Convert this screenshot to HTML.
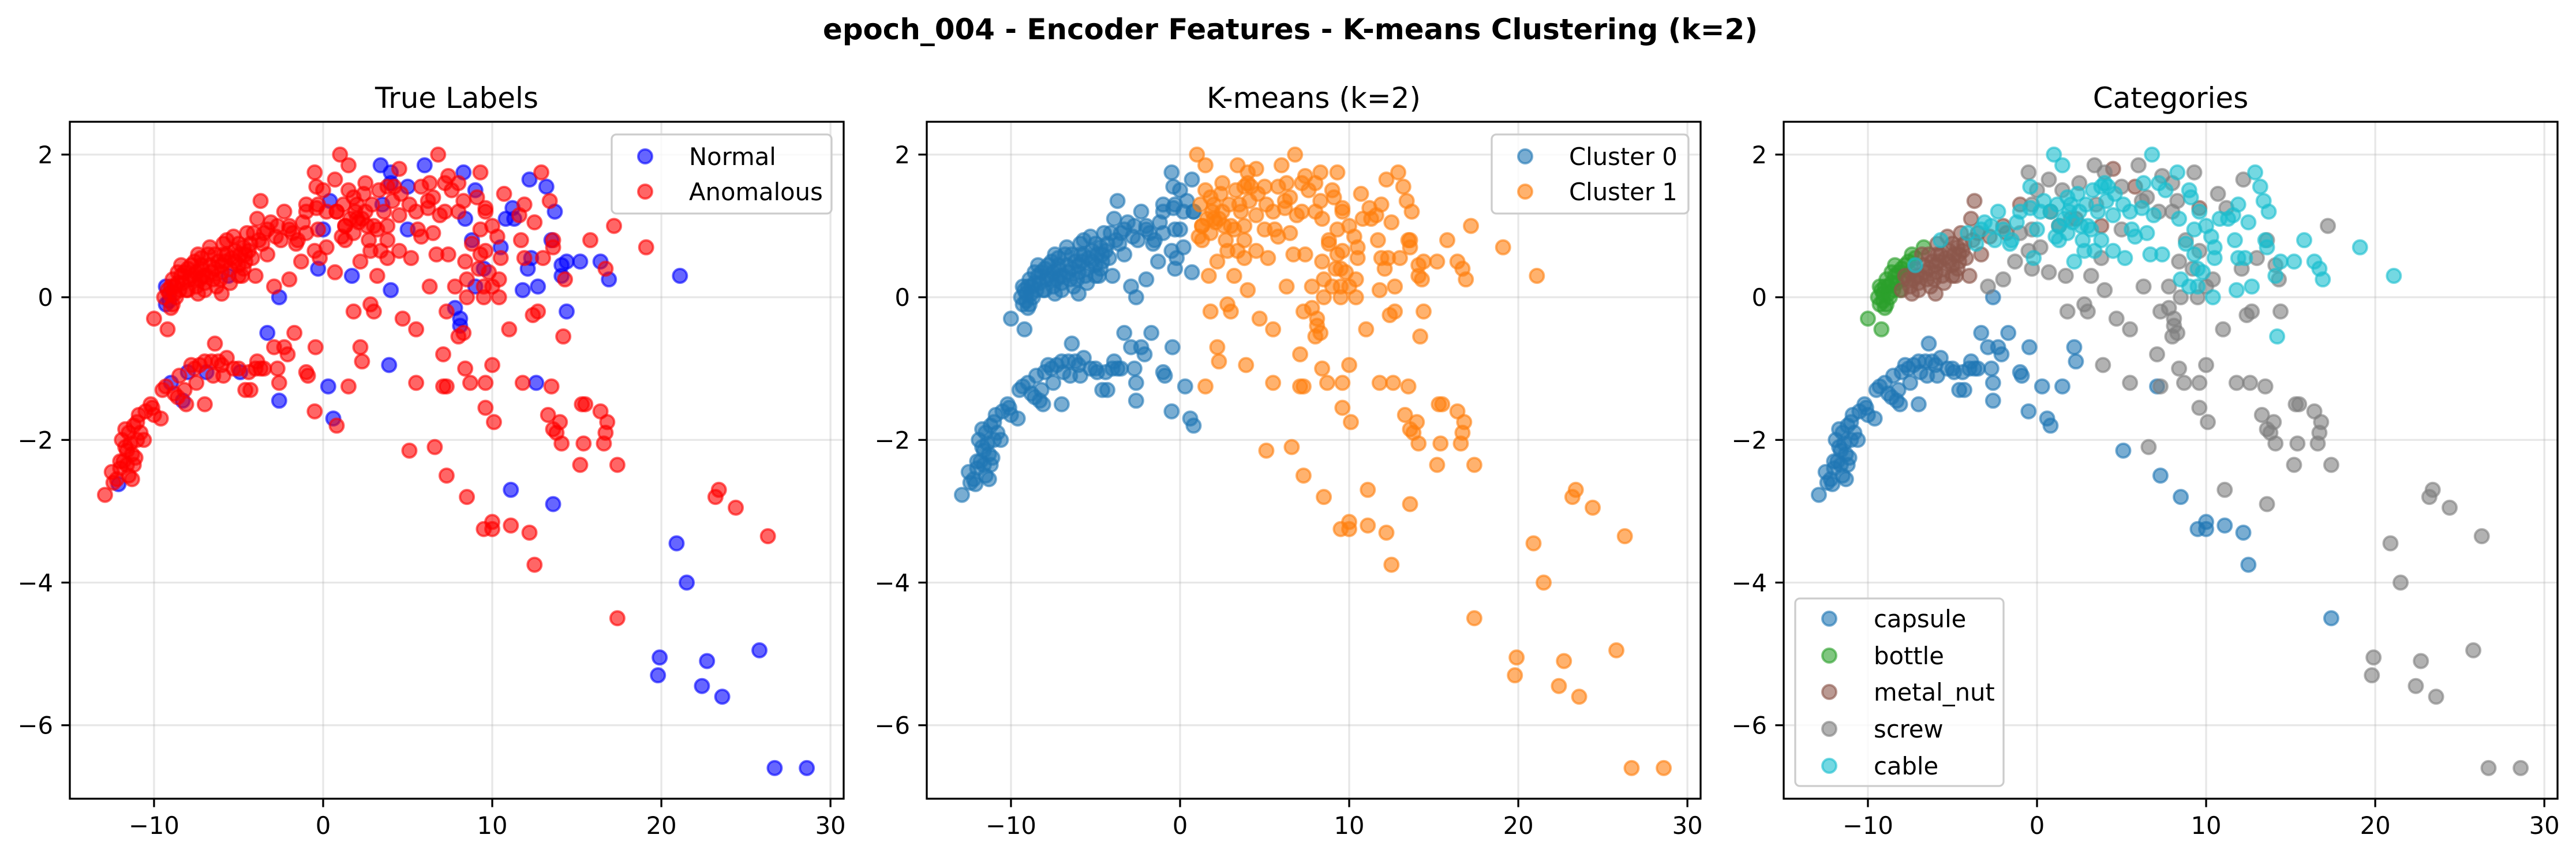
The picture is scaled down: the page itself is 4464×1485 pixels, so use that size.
<!DOCTYPE html>
<html><head><meta charset="utf-8"><title>epoch_004 Encoder Features K-means</title>
<style>html,body{margin:0;padding:0;background:#fff}svg{display:block}text{font-family:"DejaVu Sans","Liberation Sans",sans-serif}</style>
</head><body>
<svg id="fig" xmlns="http://www.w3.org/2000/svg" width="4464" height="1485" viewBox="0 0 4464 1485">
<rect width="4464" height="1485" fill="#fff"/>
<text x="2236" y="68" font-size="50" font-weight="bold" text-anchor="middle" textLength="1620" lengthAdjust="spacingAndGlyphs">epoch_004 - Encoder Features - K-means Clustering (k=2)</text>
</svg>
<script>
// ---- data: [x, y, anomalous(1)/normal(0), kmeansCluster]
const capsulePts=[[-12.9,-2.77,1,0],[-12.4,-2.6,1,0],[-12.1,-2.62,0,0],[-12.5,-2.45,1,0],[-12,-2.4,1,0],[-11.8,-2.3,1,0],[-11.5,-2.5,1,0],[-11.7,-2.1,1,0],[-11.3,-2.2,1,0],[-11.2,-2.35,1,0],[-11,-2.0,1,0],[-11.5,-1.9,1,0],[-11.2,-1.8,1,0],[-11,-1.75,1,0],[-10.8,-1.9,1,0],[-10.6,-2.0,1,0],[-10.9,-1.65,1,0],[-11.6,-2.15,1,0],[-12.0,-2.3,1,0],[-11.3,-2.55,1,0],[-11.4,-2.05,1,0],[-11.1,-2.25,1,0],[-11.6,-2.35,1,0],[-10.5,-1.6,1,0],[-10.2,-1.5,1,0],[-10,-1.65,1,0],[-9.6,-1.7,1,0],[-9.3,-1.25,1,0],[-9,-1.2,0,0],[-8.8,-1.35,1,0],[-8.6,-1.4,1,0],[-8.3,-1.45,0,0],[-8.2,-1.3,1,0],[-8.5,-1.1,1,0],[-8.0,-1.05,0,0],[-7.6,-1.0,1,0],[-7.3,-0.95,1,0],[-7.0,-0.9,1,0],[-6.6,-0.9,1,0],[-6.9,-1.05,0,0],[-7.5,-1.2,1,0],[-6.5,-1.1,1,0],[-6.0,-0.95,1,0],[-6.4,-0.65,1,0],[-5.7,-0.85,1,0],[-5.3,-1.0,1,0],[-4.9,-1.05,0,0],[-4.4,-1.05,1,0],[-3.9,-0.9,1,0],[-3.7,-1.0,1,0],[-4.6,-1.3,1,0],[-4.3,-1.3,1,0],[-3.3,-0.5,0,0],[-2.9,-0.7,1,0],[-2.7,-1.0,1,0],[-2.3,-0.7,1,0],[-2.1,-0.8,1,0],[-1.7,-0.5,1,0],[-1.0,-1.05,1,0],[-0.9,-1.1,1,0],[-0.45,-0.7,1,0],[-2.6,-1.2,1,0],[-2.6,-1.45,0,0],[-7,-1.5,1,0],[-0.5,-1.6,1,0],[0.3,-1.25,0,0],[0.6,-1.7,0,0],[0.8,-1.8,1,0],[1.5,-1.25,1,1],[2.2,-0.7,1,1],[2.3,-0.9,1,1],[-2.6,0.0,0,0],[5.1,-2.15,1,1],[7.3,-2.5,1,1],[8.5,-2.8,1,1],[9.5,-3.25,1,1],[10,-3.15,1,1],[10,-3.25,1,1],[11.1,-3.2,1,1],[12.2,-3.3,1,1],[12.5,-3.75,1,1],[17.4,-4.5,1,1],[7.1,-1.25,1,1],[-9.5,-1.3,1,0],[-10.1,-1.55,1,0],[-8.1,-1.5,1,0],[-7.8,-0.95,1,0],[-5.9,-1.1,1,0],[-6.2,-0.9,1,0],[-5.0,-1.0,1,0],[-4.0,-1.0,1,0],[-3.5,-1.0,1,0],[-12.2,-2.55,1,0],[-11.9,-2.0,1,0],[-11.7,-1.85,1,0]];
const bottlePts=[[-10,-0.3,1,0],[-9.2,-0.45,1,0],[-9.4,0,1,0],[-9.2,0.1,1,0],[-9.0,0.15,1,0],[-8.8,0.05,1,0],[-8.9,-0.1,1,0],[-9.3,0.15,0,0],[-8.6,0.2,1,0],[-8.4,0.3,1,0],[-8.2,0.35,1,0],[-8,0.4,1,0],[-7.6,0.5,1,0],[-7.2,0.55,1,0],[-6.7,0.7,1,0],[-7.9,0.25,1,0],[-8.7,0.0,1,0],[-9.1,-0.05,0,0],[-8.5,0.1,1,0],[-7.5,0.35,1,0],[-9.3,-0.1,0,0],[-9.0,-0.15,1,0],[-8.8,0.15,1,0],[-8.3,0.2,1,0],[-8.6,0.35,1,0],[-9.1,0.05,1,0],[-7.8,0.45,1,0],[-8.1,0.1,1,0],[-8.9,0.25,1,0],[-8.4,0.45,1,0],[-7.4,0.6,1,0]];
const metalNutPts=[[-8,0.1,1,0],[-7.5,0.15,1,0],[-7,0.2,1,0],[-6.5,0.25,1,0],[-6,0.35,1,0],[-5.5,0.4,1,0],[-5,0.45,1,0],[-4.6,0.5,1,0],[-4.2,0.55,1,0],[-7.8,0.3,1,0],[-7.2,0.4,1,0],[-6.7,0.45,1,0],[-6.2,0.5,1,0],[-5.7,0.6,1,0],[-5.2,0.65,1,0],[-4.7,0.7,1,0],[-4.3,0.75,1,0],[-3.8,0.8,1,0],[-6.3,0.15,1,0],[-5.5,0.2,1,0],[-4.8,0.3,1,0],[-4,0.3,1,0],[-3.3,0.6,1,0],[-3.9,1.1,1,0],[-3.7,1.35,1,0],[-2,1.0,1,0],[-1.8,0.9,1,0],[-1,1.3,1,0],[0.8,1.2,1,0],[1.3,1.0,1,1],[2.3,1.1,1,1],[3.8,1.0,1,1],[4.5,1.8,1,1],[5.8,1.55,1,1],[9.6,1.25,1,1],[-7,0.1,1,0],[-6,0.05,1,0],[-5,0.3,1,0],[-4.5,0.9,1,0],[-6.8,0.6,1,0],[-5.9,0.75,1,0],[-5.3,0.85,1,0],[-7.4,0.05,1,0],[-6.9,0.3,1,0],[-6.4,0.4,1,0],[-5.8,0.5,1,0],[-5.4,0.55,1,0],[-4.9,0.6,1,0],[-4.4,0.65,1,0],[-6.1,0.25,1,0],[-5.6,0.3,0,0],[-4.7,0.4,1,0],[-7.6,0.25,1,0],[-3.5,0.9,1,0],[-2.8,0.85,1,0],[-7.1,0.3,1,0],[-6.6,0.35,1,0],[-6.0,0.45,1,0],[-5.2,0.5,1,0],[-4.6,0.6,1,0],[-5.9,0.6,1,0],[-6.4,0.6,1,0],[-7.3,0.25,1,0],[-5.0,0.75,1,0]];
const screwPts=[[-0.5,1.75,1,0],[0.7,1.65,1,0],[3.4,1.85,0,1],[6,1.85,0,1],[9.3,1.75,1,1],[7.4,1.7,1,1],[12.2,1.65,0,1],[10.7,1.45,1,1],[8,1.6,1,1],[5,1.55,0,1],[1.5,1.5,1,1],[2.5,1.6,1,1],[4,1.75,0,1],[0,1.5,1,0],[6.2,1.35,1,1],[8.3,1.35,1,1],[8,1.2,1,1],[11.2,1.25,0,1],[7.2,1.2,1,1],[17.2,1.0,1,1],[-0.3,0.95,1,0],[0.2,0.7,1,0],[-0.5,0.65,1,0],[-0.3,0.4,0,0],[-1.3,0.5,1,0],[0.7,0.35,1,0],[1.7,0.3,0,1],[3.2,0.3,1,1],[4,0.1,0,1],[6.3,0.15,1,1],[7.8,0.15,1,1],[8.4,0.5,1,1],[9.6,0.65,1,1],[9.2,0.4,1,1],[10.4,0.25,1,1],[13,0.55,1,1],[12.1,0.4,0,1],[14.3,0.25,1,1],[8.5,0,1,1],[9.5,0,1,1],[10,0.15,1,1],[-2.0,0.25,1,0],[-2.9,0.15,1,0],[-1.0,0.9,1,0],[1.8,-0.2,1,1],[2.8,-0.1,1,1],[3,-0.2,1,1],[4.7,-0.3,1,1],[5.5,-0.45,1,1],[7.3,-0.2,1,1],[7.8,-0.15,0,1],[8.1,-0.3,0,1],[8.1,-0.4,0,1],[8,-0.55,1,1],[8.3,-0.5,1,1],[11,-0.45,1,1],[12.4,-0.25,1,1],[12.7,-0.2,1,1],[14.4,-0.2,0,1],[7.1,-0.8,1,1],[3.9,-0.95,0,1],[5.5,-1.2,1,1],[8.4,-1.0,1,1],[8.7,-1.2,1,1],[9.6,-1.2,1,1],[10,-0.95,1,1],[11.8,-1.2,1,1],[12.6,-1.2,0,1],[13.5,-1.25,1,1],[9.6,-1.55,1,1],[10.1,-1.75,1,1],[13.3,-1.65,1,1],[13.6,-1.85,1,1],[13.8,-1.9,1,1],[14,-1.75,1,1],[15.3,-1.5,1,1],[15.5,-1.5,1,1],[16.4,-1.6,1,1],[16.8,-1.75,1,1],[16.7,-1.9,1,1],[14.1,-2.05,1,1],[15.4,-2.05,1,1],[16.6,-2.05,1,1],[15.2,-2.35,1,1],[17.4,-2.35,1,1],[6.6,-2.1,1,1],[11.1,-2.7,0,1],[13.6,-2.9,0,1],[23.4,-2.7,1,1],[23.2,-2.8,1,1],[24.4,-2.95,1,1],[26.3,-3.35,1,1],[20.9,-3.45,0,1],[21.5,-4.0,0,1],[25.8,-4.95,0,1],[19.9,-5.05,0,1],[22.7,-5.1,0,1],[19.8,-5.3,0,1],[22.4,-5.45,0,1],[23.6,-5.6,0,1],[26.7,-6.6,0,1],[28.6,-6.6,0,1],[7.3,-1.25,1,1],[-0.3,1.3,1,0],[2,1.1,1,1],[3.5,1.3,0,1],[6.5,1.4,1,1],[5,0.95,0,1],[3.8,0.55,1,1],[14.1,0.45,0,1],[13.6,0.8,1,1],[8.8,0.8,0,1]];
const cablePts=[[1,2.0,1,1],[6.8,2.0,1,1],[1.5,1.85,1,1],[-0.4,1.55,1,0],[12.9,1.75,1,1],[13.2,1.55,0,1],[13.4,1.35,1,1],[13.7,1.2,0,1],[8.3,1.75,0,1],[7.2,1.6,1,1],[7.6,1.5,1,1],[9,1.5,0,1],[9.1,1.4,1,1],[6.3,1.6,1,1],[3.8,1.55,1,1],[4.2,1.55,1,1],[2.4,1.45,1,1],[1.8,1.4,1,1],[1.2,1.3,1,1],[0.4,1.35,0,0],[-0.4,1.25,1,0],[-1.0,1.2,1,0],[-2.3,1.2,1,0],[-2.7,1.0,1,0],[-3.1,1.05,1,0],[-4.1,0.9,1,0],[-5.7,0.8,1,0],[-3.6,0.75,1,0],[-2.5,0.8,1,0],[-1.6,0.75,1,0],[-1.2,1.05,1,0],[1.3,1.0,1,1],[1.8,0.9,1,1],[2.1,1.05,1,1],[2.7,0.8,1,1],[3.2,0.95,1,1],[3.6,1.2,1,1],[4.1,1.35,1,1],[4.5,1.15,1,1],[5.1,1.3,1,1],[5.5,1.2,1,1],[6.2,1.25,1,1],[6.9,1.15,1,1],[5.6,0.95,1,1],[5.8,0.85,1,1],[6.5,0.9,1,1],[7.4,0.6,1,1],[6.7,0.6,1,1],[5.2,0.55,1,1],[4.5,0.65,1,1],[3.8,0.8,1,1],[3.4,0.65,1,1],[2.8,0.65,1,1],[2.2,0.5,1,1],[1.3,0.8,1,1],[1.1,0.85,1,1],[0,0.95,0,0],[-0.2,0.55,1,0],[-1.5,0.8,1,0],[-7.2,0.45,1,0],[8.4,1.1,0,1],[8.8,0.75,1,1],[9.3,0.6,1,1],[9.5,0.4,0,1],[9.6,1.2,1,1],[10,1.0,1,1],[10.3,0.85,1,1],[10.5,0.7,0,1],[10.5,0.55,1,1],[10.8,1.1,0,1],[11.3,1.1,0,1],[11.6,1.15,1,1],[11.9,1.3,1,1],[11.7,0.8,1,1],[12.3,0.55,0,1],[11.9,0.55,1,1],[12.5,1.05,1,1],[13.5,0.8,0,1],[13.6,0.7,1,1],[14.1,0.3,0,1],[14.4,0.5,0,1],[15.2,0.5,0,1],[15.8,0.8,1,1],[16.4,0.5,0,1],[16.7,0.4,1,1],[16.9,0.25,0,1],[19.1,0.7,1,1],[21.1,0.3,0,1],[8.5,0.25,1,1],[9,0.15,0,1],[9.5,0.15,1,1],[10.4,0,1,1],[11.8,0.1,0,1],[12.7,0.15,0,1],[14.2,-0.55,1,1],[9.8,0.35,1,1],[9.3,0.95,1,1],[0.2,1.2,1,0],[2.5,1.2,1,1],[2.9,1.3,1,1],[3.0,1.0,1,1],[1.6,1.1,1,1],[0.8,1.2,1,0],[4.0,1.6,0,1],[2.0,1.3,1,1],[2.6,1.0,1,1],[1.9,1.2,1,1],[3.3,1.5,1,1],[4.6,1.45,1,1],[-3.3,0.95,1,0],[-2.0,0.95,1,0]];
const categoryNames=["capsule","bottle","metal_nut","screw","cable"];
const categoryColors=["#1f77b4","#2ca02c","#8c564b","#7f7f7f","#17becf"];
const xTicks=[-10,0,10,20,30];
const yTicks=[2,0,-2,-4,-6];
const xDomain=[-14.98,30.78];
const yDomain=[-7.03,2.46];

const NS="http://www.w3.org/2000/svg";
const svg=document.getElementById("fig");
const PL=[121,1606,3091], PT=211, PW=1341, PH=1173;
function sx(p,x){return PL[p]+(x-xDomain[0])/(xDomain[1]-xDomain[0])*PW;}
function sy(y){return PT+(yDomain[1]-y)/(yDomain[1]-yDomain[0])*PH;}
function mk(tag,attrs,parent){const e=document.createElementNS(NS,tag);for(const k in attrs)e.setAttribute(k,attrs[k]);(parent||svg).appendChild(e);return e;}
function dot(g,x,y,c){const e=mk("circle",{cx:x,cy:y,r:12,fill:c,"fill-opacity":0.6,stroke:c,"stroke-opacity":0.6,"stroke-width":4},g);return e;}

const allCats=[capsulePts,bottlePts,metalNutPts,screwPts,cablePts];
const titles=["True Labels","K-means (k=2)","Categories"];
const panelNames=["true-labels-panel","kmeans-panel","categories-panel"];

for(let p=0;p<3;p++){
  const g=mk("g",{});
  
  
  const t=mk("text",{x:PL[p]+PW/2,y:187,"font-size":50,"text-anchor":"middle"},g);
  t.textContent=titles[p];
  
  
  xTicks.forEach(v=>{const l=mk("line",{x1:sx(p,v),x2:sx(p,v),y1:PT,y2:PT+PH,stroke:"#b0b0b0","stroke-opacity":0.3,"stroke-width":3.3},g);
    
    });
  yTicks.forEach(v=>{const l=mk("line",{x1:PL[p],x2:PL[p]+PW,y1:sy(v),y2:sy(v),stroke:"#b0b0b0","stroke-opacity":0.3,"stroke-width":3.3},g);
    
    });
  const pg=mk("g",{},g);
  
  
  if(p===0){
    [0,1].forEach(a=>{allCats.forEach(arr=>arr.forEach(d=>{if(d[2]===a){const e=dot(pg,sx(p,d[0]),sy(d[1]),a?"#ff0000":"#0000ff");
      
      }}));});
  }else if(p===1){
    [0,1].forEach(k=>{allCats.forEach(arr=>arr.forEach(d=>{if(d[3]===k){const e=dot(pg,sx(p,d[0]),sy(d[1]),k?"#ff7f0e":"#1f77b4");
      
      }}));});
  }else{
    allCats.forEach((arr,ci)=>arr.forEach(d=>{const e=dot(pg,sx(p,d[0]),sy(d[1]),categoryColors[ci]);
      
      }));
  }
  const r=mk("rect",{x:PL[p],y:PT,width:PW,height:PH,fill:"none",stroke:"#000","stroke-width":3.3},g);
  
  
  xTicks.forEach(v=>{const X=sx(p,v);
    const l=mk("line",{x1:X,x2:X,y1:PT+PH,y2:PT+PH+14.6,stroke:"#000","stroke-width":3.3},g);
    
    
    const tx=mk("text",{x:X,y:1445,"font-size":41.7,"text-anchor":"middle"},g);
    tx.textContent=(v<0?"\u2212":"")+Math.abs(v);
    
    });
  yTicks.forEach(v=>{const Y=sy(v);
    const l=mk("line",{x1:PL[p]-14.6,x2:PL[p],y1:Y,y2:Y,stroke:"#000","stroke-width":3.3},g);
    
    
    const tx=mk("text",{x:PL[p]-29,y:Y+15,"font-size":41.7,"text-anchor":"end"},g);
    tx.textContent=(v<0?"\u2212":"")+Math.abs(v);
    
    });
}

function legend(name,x0,y0,w,h,entries,mx,tx,rows){
  const g=mk("g",{});
  
  
  mk("rect",{x:x0,y:y0,width:w,height:h,rx:8,fill:"#fff","fill-opacity":0.8,stroke:"#cccccc","stroke-width":3.3},g);
  entries.forEach((en,i)=>{
    const e=dot(g,mx,rows[i],en[1]);
    
    
    const t=mk("text",{x:tx,y:rows[i]+15,"font-size":41.7},g);
    t.textContent=en[0];
    
    
  });
}
legend("true-labels-legend",1060,233,381,137,[["Normal","#0000ff"],["Anomalous","#ff0000"]],1118,1194,[271,332]);
legend("kmeans-legend",2585,233,341,137,[["Cluster 0","#1f77b4"],["Cluster 1","#ff7f0e"]],2643,2719,[271,332]);
legend("categories-legend",3111,1037,361,325,categoryNames.map((n,i)=>[n,categoryColors[i]]),3170,3247,[1072,1136,1199,1263,1327]);
</script>
</body></html>
